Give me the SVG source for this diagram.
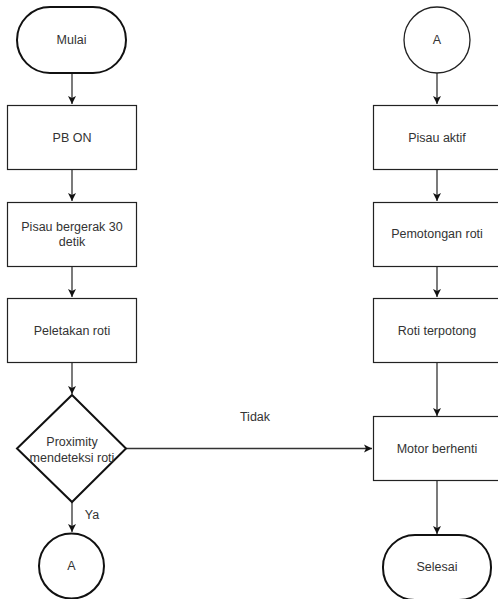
<svg xmlns="http://www.w3.org/2000/svg" width="498" height="599" viewBox="0 0 498 599">
<style>
.b{fill:#fff;stroke:#222;stroke-width:1.2}
.t{fill:#fff;stroke:#111;stroke-width:2}
.c{fill:none;stroke:#333;stroke-width:1.3}
text{font-family:"Liberation Sans",Arial,sans-serif;font-size:12.5px;fill:#333;text-anchor:middle}
</style>
<defs>
<marker id="ah" markerWidth="10" markerHeight="10" refX="8" refY="5" orient="auto" markerUnits="userSpaceOnUse">
<path d="M0,1 L8,5 L0,9 L2,5 Z" fill="#111"/>
</marker>
</defs>
<rect width="498" height="599" fill="#fff"/>
<g id="connectors">
<line class="c" x1="72" y1="73" x2="72" y2="104" marker-end="url(#ah)"/>
<line class="c" x1="72" y1="169" x2="72" y2="201" marker-end="url(#ah)"/>
<line class="c" x1="72" y1="266" x2="72" y2="297" marker-end="url(#ah)"/>
<line class="c" x1="72" y1="363" x2="72" y2="394" marker-end="url(#ah)"/>
<line class="c" x1="72" y1="502" x2="72" y2="532" marker-end="url(#ah)"/>
<line class="c" x1="126" y1="448.5" x2="372" y2="448.5" marker-end="url(#ah)"/>
<line class="c" x1="437" y1="73" x2="437" y2="104" marker-end="url(#ah)"/>
<line class="c" x1="437" y1="169" x2="437" y2="201" marker-end="url(#ah)"/>
<line class="c" x1="437" y1="266" x2="437" y2="297" marker-end="url(#ah)"/>
<line class="c" x1="437" y1="363" x2="437" y2="416" marker-end="url(#ah)"/>
<line class="c" x1="437" y1="481" x2="437" y2="534" marker-end="url(#ah)"/>
<text x="92" y="519">Ya</text>
<text x="255" y="421">Tidak</text>
</g>
<g id="mulai">
<rect class="t" x="17" y="7" width="109" height="66" rx="33" ry="33"/>
<text x="71.5" y="44">Mulai</text>
</g>
<g id="pbon">
<rect class="b" x="7.5" y="105.5" width="129" height="64"/>
<text x="72" y="142">PB ON</text>
</g>
<g id="pisau-bergerak">
<rect class="b" x="7.5" y="202.5" width="129" height="64"/>
<text x="72" y="231">Pisau bergerak 30</text>
<text x="72" y="246">detik</text>
</g>
<g id="peletakan">
<rect class="b" x="7.5" y="298.5" width="129" height="64"/>
<text x="72" y="335">Peletakan roti</text>
</g>
<g id="proximity">
<polygon class="t" points="72,395 126,448.5 72,502 17,448.5"/>
<text x="72" y="446">Proximity</text>
<text x="72" y="462">mendeteksi roti</text>
</g>
<g id="a-left">
<circle class="t" cx="71.5" cy="566" r="32.5"/>
<text x="71.5" y="570">A</text>
</g>
<g id="a-right">
<circle cx="437" cy="40" r="33" style="fill:#fff;stroke:#222;stroke-width:1.3"/>
<text x="437" y="44">A</text>
</g>
<g id="pisau-aktif">
<rect class="b" x="373.5" y="105.5" width="129" height="64"/>
<text x="437" y="142">Pisau aktif</text>
</g>
<g id="pemotongan">
<rect class="b" x="373.5" y="202.5" width="129" height="64"/>
<text x="437" y="238">Pemotongan roti</text>
</g>
<g id="roti-terpotong">
<rect class="b" x="373.5" y="298.5" width="129" height="64"/>
<text x="437" y="335">Roti terpotong</text>
</g>
<g id="motor">
<rect class="b" x="373.5" y="416.5" width="129" height="64"/>
<text x="437" y="453">Motor berhenti</text>
</g>
<g id="selesai">
<rect class="t" x="383" y="535" width="108" height="65" rx="32" ry="32"/>
<text x="437" y="571">Selesai</text>
</g>
</svg>
